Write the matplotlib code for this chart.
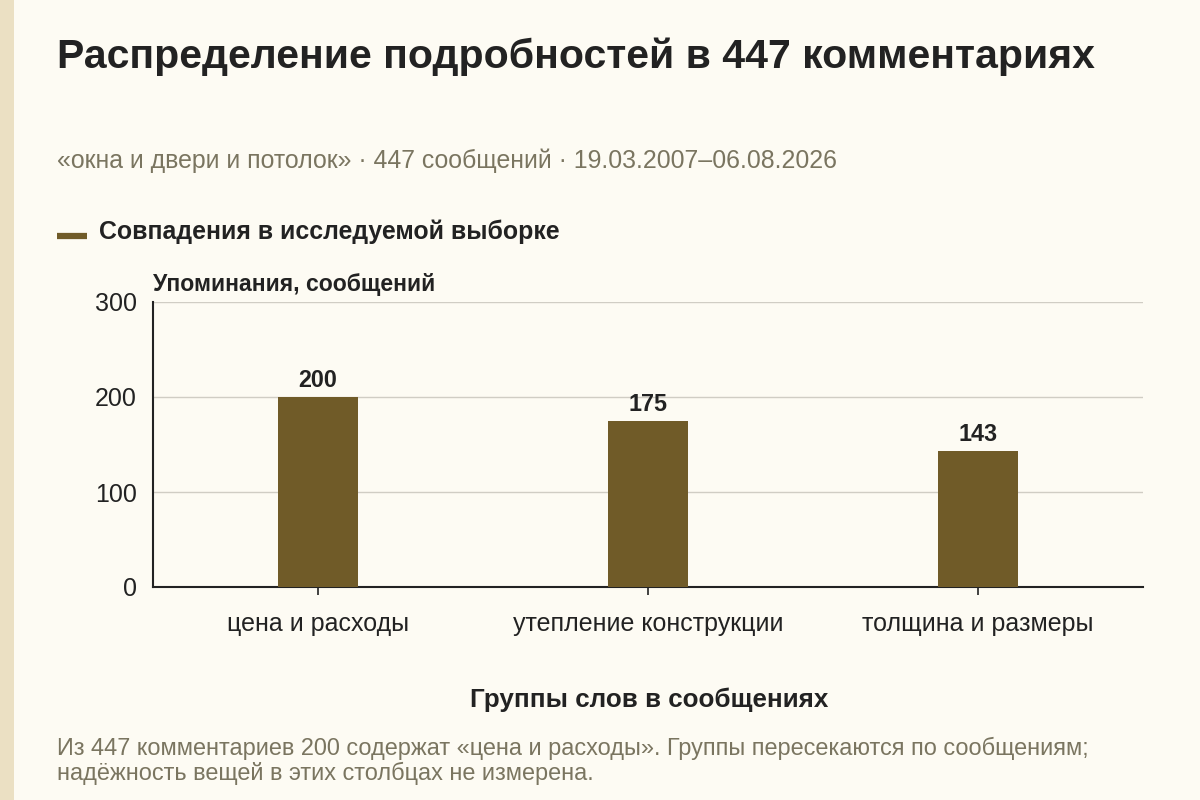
import matplotlib.pyplot as plt
from matplotlib.patches import Rectangle
from matplotlib.lines import Line2D

plt.rcParams['font.family'] = ['Liberation Sans', 'DejaVu Sans']

# данные
categories = ["цена и расходы", "утепление конструкции", "толщина и размеры"]
values = [200, 175, 143]
y_ticks = [0, 100, 200, 300]

title = "Распределение подробностей в 447 комментариях"
subtitle = "«окна и двери и потолок» · 447 сообщений · 19.03.2007–06.08.2026"
legend_label = "Совпадения в исследуемой выборке"
y_label = "Упоминания, сообщений"
x_label = "Группы слов в сообщениях"
note = ("Из 447 комментариев 200 содержат «цена и расходы». Группы пересекаются по сообщениям;\n"
        "надёжность вещей в этих столбцах не измерена.")

BG = '#fdfbf3'
BAR = '#705b28'
DARK = '#222222'
MUTED = '#7a7560'

fig = plt.figure(figsize=(12, 8), dpi=100, facecolor=BG)

# полоса слева
fig.patches.append(Rectangle((0, 0), 14 / 1200, 1, transform=fig.transFigure,
                             facecolor='#ebe0c3', edgecolor='none'))

fig.text(57 / 1200, 1 - 57 / 800, title, fontsize=29.5, fontweight='bold',
         color=DARK, va='center', ha='left')
fig.text(57 / 1200, 1 - 161 / 800, subtitle, fontsize=17.9, color=MUTED,
         va='center', ha='left')

# легенда
fig.lines.append(Line2D([57 / 1200, 87 / 1200], [1 - 236 / 800, 1 - 236 / 800],
                        transform=fig.transFigure, color=BAR, linewidth=4.5,
                        solid_capstyle='butt'))
fig.text(99 / 1200, 1 - 232 / 800, legend_label, fontsize=17.9, fontweight='bold',
         color=DARK, va='center', ha='left')

ax = fig.add_axes([153 / 1200, 1 - 587 / 800, 990 / 1200, 285 / 800])
ax.set_facecolor(BG)
x = range(len(categories))
ax.bar(x, values, width=0.24, color=BAR, zorder=3)
for xi, v in zip(x, values):
    ax.text(xi, v + 5, str(v), ha='center', va='bottom', fontsize=16.8,
            fontweight='bold', color=DARK)

ax.set_xlim(-0.5, 2.5)
ax.set_ylim(0, 300)
ax.set_yticks(y_ticks)
ax.set_xticks(list(x))
ax.set_xticklabels(categories)
ax.tick_params(axis='x', length=6, width=1.2, colors=DARK, labelsize=18, pad=12)
ax.tick_params(axis='y', length=0, colors=DARK, labelsize=18, pad=11.5)
ax.grid(axis='y', color='#d0cdc4', linewidth=1, zorder=0)
for s in ['top', 'right']:
    ax.spines[s].set_visible(False)
for s in ['left', 'bottom']:
    ax.spines[s].set_color(DARK)
    ax.spines[s].set_linewidth(1.5)

fig.text(153 / 1200, 1 - 285 / 800, y_label, fontsize=16.6, fontweight='bold',
         color=DARK, va='center', ha='left')
fig.text(649 / 1200, 1 - 700 / 800, x_label, fontsize=18.7, fontweight='bold',
         color=DARK, va='center', ha='center')
fig.text(57 / 1200, 1 - 761 / 800, note, fontsize=16.9, color=MUTED,
         va='center', ha='left', linespacing=1.12)

fig.savefig('out.png', dpi=100, facecolor=BG)
